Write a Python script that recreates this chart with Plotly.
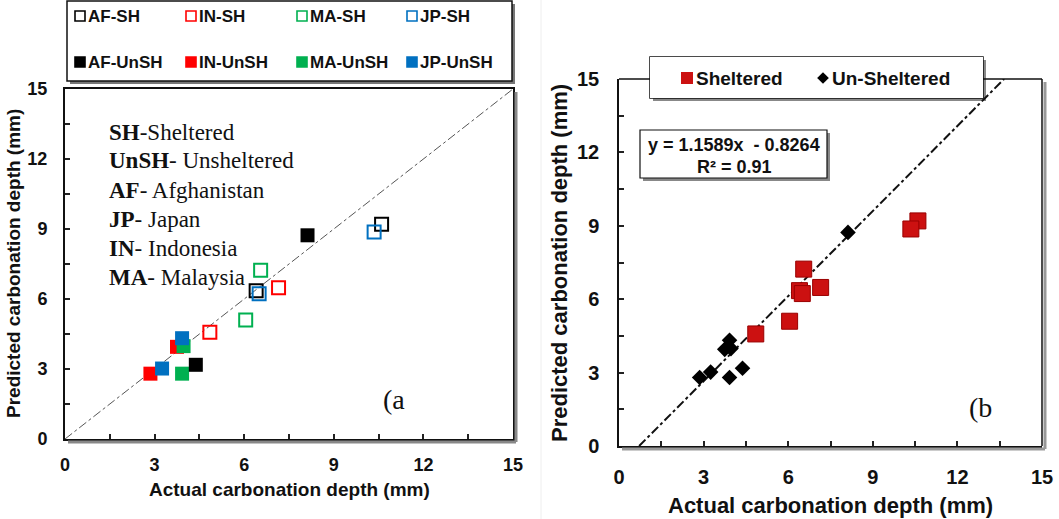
import numpy as np
import plotly.graph_objects as go

W, H = 1059, 519

# ---------------- data ----------------
af_sh_x = [10.6, 6.4]
af_sh_y = [9.2, 6.35]
in_sh_x = [7.15, 4.85]
in_sh_y = [6.48, 4.58]
ma_sh_x = [6.55, 6.05]
ma_sh_y = [7.23, 5.1]
jp_sh_x = [10.35, 6.5]
jp_sh_y = [8.87, 6.23]

af_un_x = [8.12, 4.38]
af_un_y = [8.73, 3.18]
in_un_x = [2.86, 3.75]
in_un_y = [2.8, 3.95]
ma_un_x = [3.97, 3.92]
ma_un_y = [3.98, 2.8]
jp_un_x = [3.92, 3.25]
jp_un_y = [4.32, 3.02]

sheltered_x = af_sh_x + in_sh_x + ma_sh_x + jp_sh_x
sheltered_y = af_sh_y + in_sh_y + ma_sh_y + jp_sh_y
unsheltered_x = af_un_x + in_un_x + ma_un_x + jp_un_x
unsheltered_y = af_un_y + in_un_y + ma_un_y + jp_un_y

fit_slope = 1.1589
fit_intercept = -0.8264

tick_vals = [0, 3, 6, 9, 12, 15]

legend_left_names = ["AF-SH", "IN-SH", "MA-SH", "JP-SH",
                     "AF-UnSH", "IN-UnSH", "MA-UnSH", "JP-UnSH"]
legend_right_names = ["Sheltered", "Un-Sheltered"]

abbrev_bold = ["SH", "UnSH", "AF", "JP", "IN", "MA"]
abbrev_rest = ["-Sheltered", "- Unsheltered", "- Afghanistan", "- Japan",
               "- Indonesia", "- Malaysia"]

# ---------------- styling ----------------
C_AF, C_IN, C_MA, C_JP = "#000000", "#FF0000", "#00B050", "#0070C0"
SANS = "Liberation Sans, Arial, sans-serif"
SERIF = "Liberation Serif, Times New Roman, serif"


def px(v):
    return v / W


def py(v):
    return 1 - v / H


fig = go.Figure()

# ---------- left panel ----------
fig.add_trace(go.Scatter(x=[0, 15], y=[0, 15], mode="lines", xaxis="x", yaxis="y",
                         line=dict(color="#555555", width=1, dash="dashdot"),
                         showlegend=False, hoverinfo="skip"))


def filled(x, y, c, size=14):
    return go.Scatter(x=x, y=y, mode="markers", xaxis="x", yaxis="y",
                      marker=dict(symbol="square", size=size, color=c,
                                  line=dict(width=0)),
                      showlegend=False)


def opened(x, y, c, size=13):
    return go.Scatter(x=x, y=y, mode="markers", xaxis="x", yaxis="y",
                      marker=dict(symbol="square-open", size=size, color=c,
                                  line=dict(width=2, color=c)),
                      showlegend=False)


fig.add_trace(filled(in_un_x, in_un_y, C_IN))
fig.add_trace(filled(ma_un_x, ma_un_y, C_MA))
fig.add_trace(filled(jp_un_x, jp_un_y, C_JP))
fig.add_trace(filled(af_un_x, af_un_y, C_AF))
fig.add_trace(opened(af_sh_x, af_sh_y, C_AF))
fig.add_trace(opened(in_sh_x, in_sh_y, C_IN))
fig.add_trace(opened(ma_sh_x, ma_sh_y, C_MA))
fig.add_trace(opened(jp_sh_x, jp_sh_y, C_JP))

# ---------- right panel ----------
fx0 = (0 - fit_intercept) / fit_slope
fx1 = (15 - fit_intercept) / fit_slope
fxs = np.array([fx0, fx1])
fig.add_trace(go.Scatter(x=fxs, y=fit_slope * fxs + fit_intercept, mode="lines",
                         xaxis="x2", yaxis="y2",
                         line=dict(color="#111111", width=2, dash="dashdot"),
                         showlegend=False, hoverinfo="skip"))
fig.add_trace(go.Scatter(x=sheltered_x, y=sheltered_y, mode="markers",
                         xaxis="x2", yaxis="y2",
                         marker=dict(symbol="square", size=16, color="#CC1111",
                                     line=dict(width=1, color="#990000")),
                         showlegend=False))
fig.add_trace(go.Scatter(x=unsheltered_x, y=unsheltered_y, mode="markers",
                         xaxis="x2", yaxis="y2",
                         marker=dict(symbol="diamond", size=12, color="#000000",
                                     line=dict(width=0)),
                         showlegend=False))

# ---------- left legend (hidden helper axes in pixel units) ----------
leg_cols = [80, 191, 302, 412]
leg_rows = [16, 62]
leg_x = leg_cols * 2
leg_y = [leg_rows[0]] * 4 + [leg_rows[1]] * 4
leg_colors = [C_AF, C_IN, C_MA, C_JP] * 2
leg_symbols = ["square-open"] * 4 + ["square"] * 4
fig.add_trace(go.Scatter(x=leg_x, y=leg_y, mode="markers", xaxis="x3", yaxis="y3",
                         marker=dict(symbol=leg_symbols, size=10, color=leg_colors,
                                     line=dict(width=1.6, color=leg_colors)),
                         showlegend=False, hoverinfo="skip", cliponaxis=False))

# ---------- right legend ----------
fig.add_trace(go.Scatter(x=[687], y=[78], mode="markers", xaxis="x4", yaxis="y4",
                         marker=dict(symbol="square", size=12, color="#CC1111",
                                     line=dict(width=0)),
                         showlegend=False, hoverinfo="skip", cliponaxis=False))
fig.add_trace(go.Scatter(x=[823], y=[78], mode="markers", xaxis="x4", yaxis="y4",
                         marker=dict(symbol="diamond", size=9, color="#000000",
                                     line=dict(width=0)),
                         showlegend=False, hoverinfo="skip", cliponaxis=False))

tickfont_l = dict(family=SANS, size=18, color="#111111", weight="bold")
tickfont_r = dict(family=SANS, size=20, color="#111111", weight="bold")


def axis(domain, anchor, tf, lw, mirror, standoff):
    return dict(domain=domain, anchor=anchor, range=[0, 15], tickvals=tick_vals,
                ticks="inside", ticklen=5, tickwidth=1.5, tickcolor="#222",
                minor=dict(dtick=1.5, tick0=0, ticks="inside", ticklen=5,
                           tickwidth=1.5, tickcolor="#222", showgrid=False),
                showline=True, linecolor="#111111", linewidth=lw, mirror=mirror,
                showgrid=False, zeroline=False, tickfont=tf, fixedrange=True,
                ticklabelstandoff=standoff, automargin=False)


def hidden(domain, anchor, rng):
    return dict(domain=domain, anchor=anchor, range=rng, visible=False,
                fixedrange=True, automargin=False)


layout = dict(
    width=W, height=H, margin=dict(l=0, r=0, t=0, b=0, pad=0), autosize=False,
    paper_bgcolor="white", plot_bgcolor="white", showlegend=False,
    xaxis=axis([px(65), px(513)], "y", tickfont_l, 2, True, 8),
    yaxis=axis([py(439), py(89)], "x", tickfont_l, 2, True, 12),
    xaxis2=axis([px(619), px(1042)], "y2", tickfont_r, 1.5, False, 12),
    yaxis2=axis([py(446), py(79)], "x2", tickfont_r, 1.5, False, 14),
    xaxis3=hidden([px(67), px(512)], "y3", [67, 512]),
    yaxis3=hidden([py(81), py(1)], "x3", [81, 1]),
    xaxis4=hidden([px(650), px(983)], "y4", [650, 983]),
    yaxis4=hidden([py(98), py(57)], "x4", [98, 57]),
)

shapes = []


def rect(x0, y0, x1, y1, fill, lc, lw, layer):
    shapes.append(dict(type="rect", xref="paper", yref="paper",
                       x0=px(x0), x1=px(x1), y0=py(y1), y1=py(y0),
                       fillcolor=fill, line=dict(color=lc, width=lw), layer=layer))


def line(x0, y0, x1, y1, c, w, layer="above"):
    shapes.append(dict(type="line", xref="paper", yref="paper",
                       x0=px(x0), x1=px(x1), y0=py(y0), y1=py(y1),
                       line=dict(color=c, width=w), layer=layer))


# faint separator between panels
line(541, 0, 541, 519, "#EEEEEE", 1, "below")

# left legend box with shadow
rect(70, 4, 515, 84, "#777777", "#777777", 0, "below")
rect(67, 1, 512, 81, "white", "#111111", 1.5, "below")

# left frame shadow
line(516, 92, 516, 442, "#888888", 3)
line(68, 442, 516, 442, "#888888", 3)

# right frame: top (split around legend) and right edges, shadows
line(619, 79, 650, 79, "#111111", 1.5)
line(983, 79, 1042, 79, "#111111", 1.5)
line(1042, 79, 1042, 446, "#111111", 1.5)
line(1045, 82, 1045, 449, "#999999", 3)
line(622, 449, 1045, 449, "#999999", 3)

# right legend box with shadow
rect(653, 60, 986, 101, "#888888", "#888888", 0, "below")
rect(650, 57, 983, 98, "white", "#111111", 1.5, "below")

# equation box with shadow
rect(643, 133, 830, 181, "#888888", "#888888", 0, "below")
rect(640, 130, 827, 178, "white", "#111111", 1.2, "below")

layout["shapes"] = shapes

ann = []
legfont = dict(family=SANS, size=17, color="#111111", weight="bold")
for name, lx, ly in zip(legend_left_names, leg_x, leg_y):
    ann.append(dict(xref="x3", yref="y3", x=lx + 6, y=ly, text=name, showarrow=False,
                    xanchor="left", yanchor="middle", font=legfont))

rfont = dict(family=SANS, size=19, color="#111111", weight="bold")
for name, lx in zip(legend_right_names, [694, 830]):
    ann.append(dict(xref="x4", yref="y4", x=lx, y=78, text=name, showarrow=False,
                    xanchor="left", yanchor="middle", font=rfont))

# abbreviations block
for i, (b, r) in enumerate(zip(abbrev_bold, abbrev_rest)):
    ann.append(dict(xref="paper", yref="paper", x=px(107), y=py(132 + i * 29),
                    text=f"<b>{b}</b>{r}", showarrow=False, xanchor="left",
                    yanchor="middle", font=dict(family=SERIF, size=23, color="#111111")))

# panel labels
ann.append(dict(xref="paper", yref="paper", x=px(381), y=py(399), text="(a",
                showarrow=False, xanchor="left", yanchor="middle",
                font=dict(family=SERIF, size=28, color="#111111")))
ann.append(dict(xref="paper", yref="paper", x=px(967), y=py(407), text="(b",
                showarrow=False, xanchor="left", yanchor="middle",
                font=dict(family=SERIF, size=28, color="#111111")))

# equation
eqfont = dict(family=SANS, size=18, color="#111111", weight="bold")
ann.append(dict(xref="paper", yref="paper", x=px(734), y=py(145),
                text=f"y = {fit_slope}x  - {abs(fit_intercept)}", showarrow=False,
                xanchor="center", yanchor="middle", font=eqfont))
ann.append(dict(xref="paper", yref="paper", x=px(734), y=py(167),
                text="R² = 0.91", showarrow=False,
                xanchor="center", yanchor="middle", font=eqfont))

# axis titles
tfl = dict(family=SANS, size=19, color="#111111", weight="bold")
tfr = dict(family=SANS, size=22, color="#111111", weight="bold")
ann.append(dict(xref="paper", yref="paper", x=px(289), y=py(489),
                text="Actual carbonation depth (mm)", showarrow=False,
                xanchor="center", yanchor="middle", font=tfl))
ann.append(dict(xref="paper", yref="paper", x=px(13), y=py(264),
                text="Predicted carbonation depth (mm)", showarrow=False, textangle=-90,
                xanchor="center", yanchor="middle", font=tfl))
ann.append(dict(xref="paper", yref="paper", x=px(830), y=py(505),
                text="Actual carbonation depth (mm)", showarrow=False,
                xanchor="center", yanchor="middle", font=tfr))
ann.append(dict(xref="paper", yref="paper", x=px(559), y=py(263),
                text="Predicted carbonation depth (mm)", showarrow=False, textangle=-90,
                xanchor="center", yanchor="middle", font=tfr))

layout["annotations"] = ann
fig.update_layout(**layout)

fig.write_html("out.html", config={"responsive": False, "displayModeBar": False},
               post_script="document.body.style.margin='0';"
                           "document.documentElement.style.overflow='hidden';")
